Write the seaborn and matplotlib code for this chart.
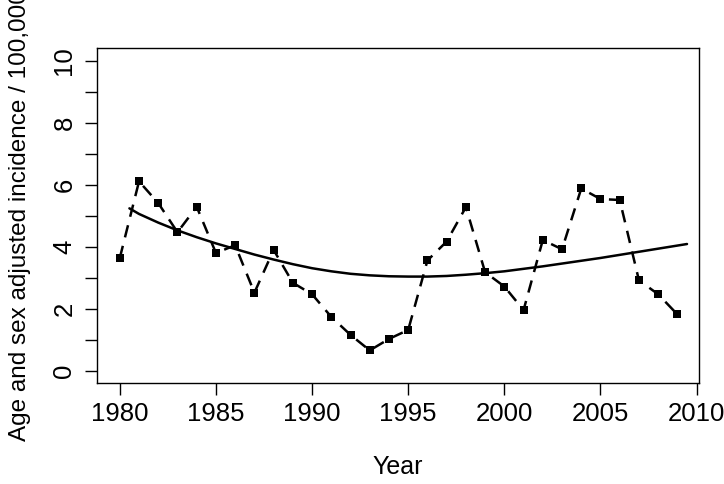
import matplotlib
matplotlib.use("Agg")
import matplotlib.pyplot as plt
import seaborn as sns

# yearly incidence (points joined by dashed line)
YEARS = list(range(1980, 2010))
INCIDENCE = [3.64, 6.11, 5.41, 4.47, 5.29, 3.80, 4.05, 2.52, 3.90, 2.84,
             2.47, 1.74, 1.16, 0.66, 1.03, 1.32, 3.56, 4.17, 5.28, 3.18,
             2.72, 1.96, 4.22, 3.92, 5.88, 5.54, 5.51, 2.92, 2.47, 1.82]

# smoothed trend (solid line)
TREND_YEARS = [1980.5] + list(range(1981, 2010)) + [2009.5]
TREND = [5.24, 5.06, 4.78, 4.53, 4.31, 4.11, 3.93, 3.75, 3.59, 3.44,
         3.31, 3.21, 3.13, 3.08, 3.05, 3.04, 3.04, 3.06, 3.10, 3.15,
         3.21, 3.29, 3.37, 3.46, 3.55, 3.64, 3.74, 3.84, 3.94, 4.04, 4.09]

X_TICKS = [1980, 1985, 1990, 1995, 2000, 2005, 2010]
Y_TICKS = list(range(0, 11))
Y_LABELS = [str(v) if v % 2 == 0 else "" for v in Y_TICKS]

sns.set_style("ticks")
plt.rcParams["font.family"] = ["Liberation Sans", "DejaVu Sans"]

fig = plt.figure(figsize=(7.24, 4.84), dpi=100)
ax = fig.add_axes([0.1336, 0.2081, 0.8323, 0.6921])

sns.lineplot(x=YEARS, y=INCIDENCE, color="black", linewidth=1.8,
             linestyle=(0, (5, 3.5)), marker="s", markersize=6.3,
             markeredgewidth=0, ax=ax)
sns.lineplot(x=TREND_YEARS, y=TREND, color="black", linewidth=1.8, ax=ax)

ax.set_xlim(1978.8, 2010.14)
ax.set_ylim(-0.4, 10.4)
ax.set_xticks(X_TICKS)
ax.set_yticks(Y_TICKS)
ax.set_yticklabels(Y_LABELS)
ax.tick_params(axis="both", direction="out", length=8.6, width=1.0,
               color="black", labelsize=18.5, labelcolor="black")
ax.tick_params(axis="x", pad=5)
ax.tick_params(axis="y", pad=6, labelrotation=90)
for lab in ax.get_yticklabels():
    lab.set_va("center")

for sp in ax.spines.values():
    sp.set_visible(True)
    sp.set_color("black")
    sp.set_linewidth(1.0)

ax.set_xlabel("Year", fontsize=18, color="black")
ax.set_ylabel("Age and sex adjusted incidence / 100,000", fontsize=17.5,
              color="black")
ax.xaxis.set_label_coords(0.5, -0.215)
ax.yaxis.set_label_coords(-0.109, 0.5)

fig.savefig("out.png", dpi=100)
